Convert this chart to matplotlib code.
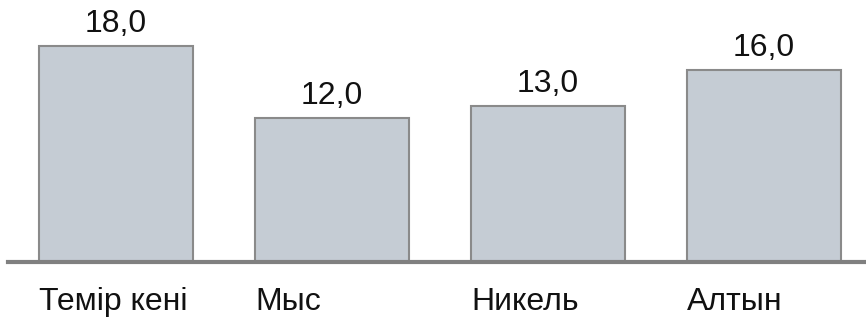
import matplotlib
matplotlib.use('Agg')
import matplotlib.pyplot as plt

# Data
categories = ['Темір кені', 'Мыс', 'Никель', 'Алтын']
values = [18.0, 12.0, 13.0, 16.0]

plt.rcParams['font.family'] = ['Liberation Sans', 'DejaVu Sans']

fig = plt.figure(figsize=(8.66, 3.18), dpi=100)
ax = fig.add_axes([0, 0, 1, 1])

x = list(range(len(categories)))
bar_w = 154 / 216
ax.bar(x, values, width=bar_w, color='#c5ccd4', edgecolor='#8a8a8a', linewidth=1.5, zorder=2)

ax.set_xlim(-116 / 216, (866 - 116) / 216)
ax.set_ylim(-56 / 12, (318 - 56) / 12)

# baseline
ax.axhline(0, xmin=8 / 866, xmax=1, color='#808080', linewidth=3.0, zorder=3)

# value labels
for xi, v in zip(x, values):
    ax.annotate(f"{v:.1f}".replace('.', ','), (xi, v), xytext=(0, 5),
                textcoords='offset points', ha='center', va='bottom',
                fontsize=23, color='#111111')

# category labels, left-aligned at bar edge
for xi, cat in zip(x, categories):
    ax.text(xi - bar_w / 2, -3.3, cat, ha='left', va='center',
            fontsize=23, color='#111111')

ax.axis('off')
fig.savefig('out.png', dpi=100, facecolor='white')
